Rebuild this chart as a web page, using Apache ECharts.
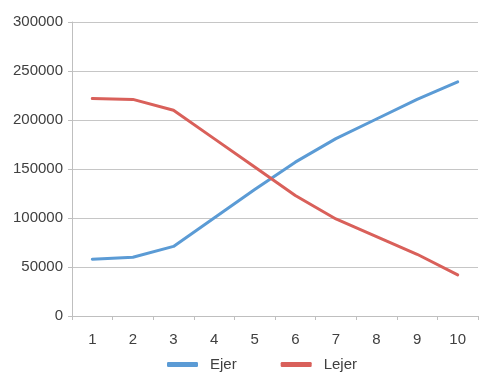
<!DOCTYPE html>
<html><head><meta charset="utf-8">
<script src="https://cdn.jsdelivr.net/npm/echarts@6/dist/echarts.min.js"></script>
<style>html,body{margin:0;padding:0;background:#fff}#c{width:500px;height:381px}</style>
</head><body><div id="c"></div>
<script>
var categories = ['1','2','3','4','5','6','7','8','9','10'];
var ejer = [58000, 60000, 71000, 100000, 129000, 157000, 181000, 201000, 221000, 239000];
var lejer = [222000, 221000, 210000, 181000, 152000, 123000, 99000, 81000, 63000, 42000];
var yTicks = [0, 50000, 100000, 150000, 200000, 250000, 300000];

var chart = echarts.init(document.getElementById('c'), null, {renderer:'canvas'});
var txt = '#404040', font = 'Liberation Sans, Arial, sans-serif';
chart.setOption({
  animation: false,
  grid: {left: 72, right: 22, top: 22, bottom: 65, containLabel: false},
  legend: {
    data: ['Ejer','Lejer'], bottom: 4, left: 162, icon: 'roundRect',
    itemWidth: 31, itemHeight: 5, itemGap: 44,
    textStyle: {color: txt, fontSize: 15, fontFamily: font, padding: [0,0,0,7]}
  },
  xAxis: {
    type: 'category', data: categories, boundaryGap: true,
    axisLine: {lineStyle: {color: '#bfbfbf', width: 1}},
    axisTick: {show: true, length: 4, lineStyle: {color: '#bfbfbf'}},
    axisLabel: {color: txt, fontSize: 15, fontFamily: font, margin: 16}
  },
  yAxis: {
    type: 'value', min: yTicks[0], max: yTicks[yTicks.length-1], interval: 50000,
    axisLine: {show: true, lineStyle: {color: '#bfbfbf', width: 1}},
    axisTick: {show: true, length: 4, lineStyle: {color: '#bfbfbf'}},
    axisLabel: {color: txt, fontSize: 15, fontFamily: font, margin: 9, formatter: function(v){return String(v);}},
    splitLine: {lineStyle: {color: '#c6c6c6', width: 1}}
  },
  series: [
    {name: 'Ejer', type: 'line', data: ejer, symbol: 'none', smooth: false,
     lineStyle: {color: '#5b9bd5', width: 3, cap: 'round', join: 'round'}, itemStyle: {color: '#5b9bd5'}},
    {name: 'Lejer', type: 'line', data: lejer, symbol: 'none', smooth: false,
     lineStyle: {color: '#d9605a', width: 3, cap: 'round', join: 'round'}, itemStyle: {color: '#d9605a'}}
  ]
});
</script></body></html>
